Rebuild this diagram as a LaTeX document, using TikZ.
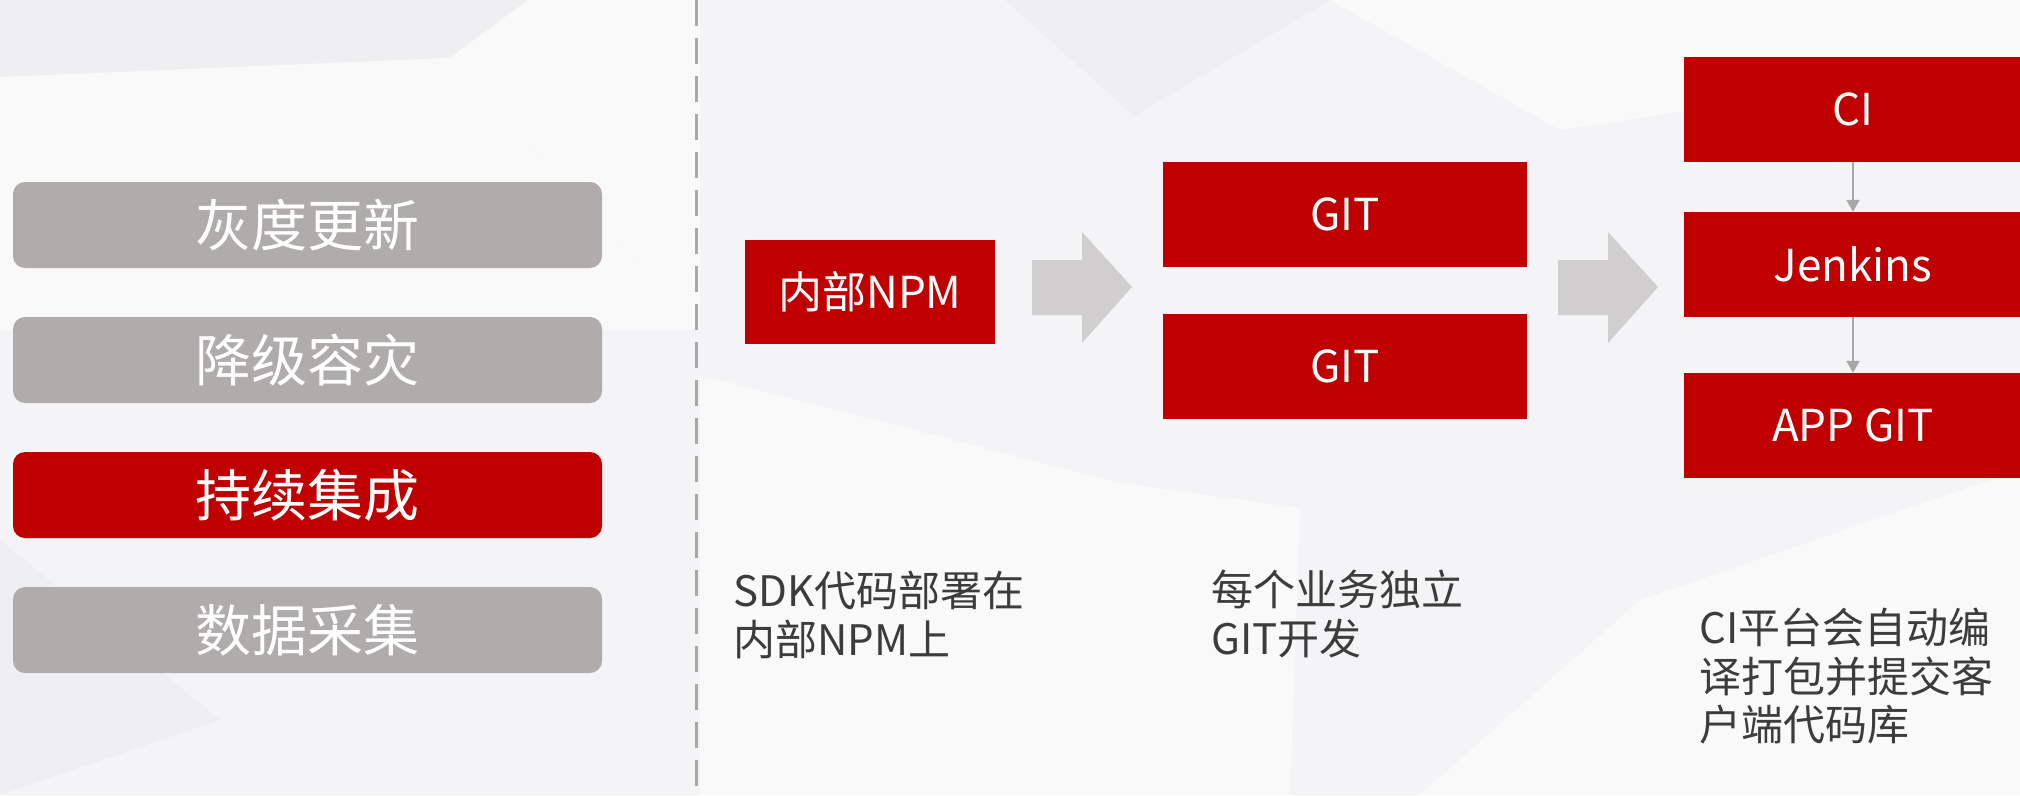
\documentclass[tikz,border=0pt]{standalone}
\usepackage{fontspec}
\setmainfont{Noto Sans CJK SC}
\usetikzlibrary{arrows.meta}

\definecolor{hongse}{HTML}{C00000}
\definecolor{menugray}{HTML}{AFACAB}
\definecolor{arrowgray}{HTML}{D0CECF}
\definecolor{linegray}{HTML}{A8A8A8}
\definecolor{notegray}{HTML}{3C3C3C}
\definecolor{bg}{HTML}{F4F4F6}
\definecolor{bglight}{HTML}{F9F9FA}
\definecolor{bgdark}{HTML}{EFEFF1}

\begin{document}
\begin{tikzpicture}
        [x=1pt, y=-1pt, >={Triangle[width=13pt, length=12pt]},
         menu/.style={rectangle, rounded corners=12pt, fill=menugray, text=white,
                      minimum width=589pt, minimum height=86pt, font=\fontsize{56}{62}\selectfont},
         redbox/.style={rectangle, fill=hongse, text=white, font=\fontsize{44}{50}\selectfont},
         note/.style={anchor=north west, align=left, inner sep=0pt, text=notegray,
                      font=\fontsize{42}{48.5}\selectfont},
         bigarrow/.style={fill=arrowgray}]

        \useasboundingbox (0,0) rectangle (2020,795);

        % background
        \fill[bg] (0,0) rectangle (2020,795);
        \fill[bgdark] (0,0) -- (528,0) -- (450,58) -- (0,77) -- cycle;
        \fill[bglight] (450,58) -- (528,0) -- (700,0) -- (700,330) -- cycle;
        \fill[bglight] (0,77) -- (450,58) -- (700,330) -- (0,330) -- cycle;
        \fill[bgdark] (1005,0) -- (1134,116) -- (1330,0) -- cycle;
        \fill[bglight] (1330,0) -- (2020,0) -- (2020,60) -- (1560,130) -- cycle;
        \fill[bglight] (700,375) -- (1120,483) -- (1300,508) -- (1290,795) -- (700,795) -- cycle;
        \fill[bgdark] (0,540) -- (220,720) -- (0,795) -- cycle;
        \fill[bglight] (1640,600) -- (2020,470) -- (2020,795) -- (1420,795) -- cycle;

        \draw[linegray, line width=3pt, dash pattern=on 26pt off 12pt] (696,0) -- (696,795);

        \foreach \t/\c [count=\i] in {灰度更新/menugray, 降级容灾/menugray, 持续集成/hongse, 数据采集/menugray}
        \node[menu, fill=\c] (menu-\i) at (307.5, 90+135*\i) {\t};

        \node[redbox, minimum width=250pt, minimum height=104pt] (npm) at (870, 292) {内部NPM};

        \foreach \i[count=\y] in {1, 2}
        \node[redbox, minimum width=364pt, minimum height=105pt] (git-\i) at (1345, 62.5+152*\y) {GIT};

        \node[redbox, minimum width=338pt, minimum height=105pt] (ci) at (1853, 109.5) {CI};
        \node[redbox, minimum width=338pt, minimum height=105pt] (jenkins) at (1853, 264.5) {Jenkins};
        \node[redbox, minimum width=338pt, minimum height=105pt] (appgit) at (1853, 425.5) {APP GIT};

        \foreach \x in {1032, 1558}
        \fill[bigarrow] (\x,260) -- ++(50,0) -- ++(0,-28) -- ++(50,55) -- ++(-50,56) -- ++(0,-28) -- ++(-50,0) -- cycle;

        \draw[->, linegray, line width=2pt] (ci) -- (jenkins);
        \draw[->, linegray, line width=2pt] (jenkins) -- (appgit);

        \node[note] (note-npm) at (733, 571) {SDK代码部署在\\内部NPM上};
        \node[note] (note-git) at (1211, 570) {每个业务独立\\GIT开发};
        \node[note] (note-ci) at (1699, 608) {CI平台会自动编\\译打包并提交客\\户端代码库};
    \end{tikzpicture}
\end{document}
